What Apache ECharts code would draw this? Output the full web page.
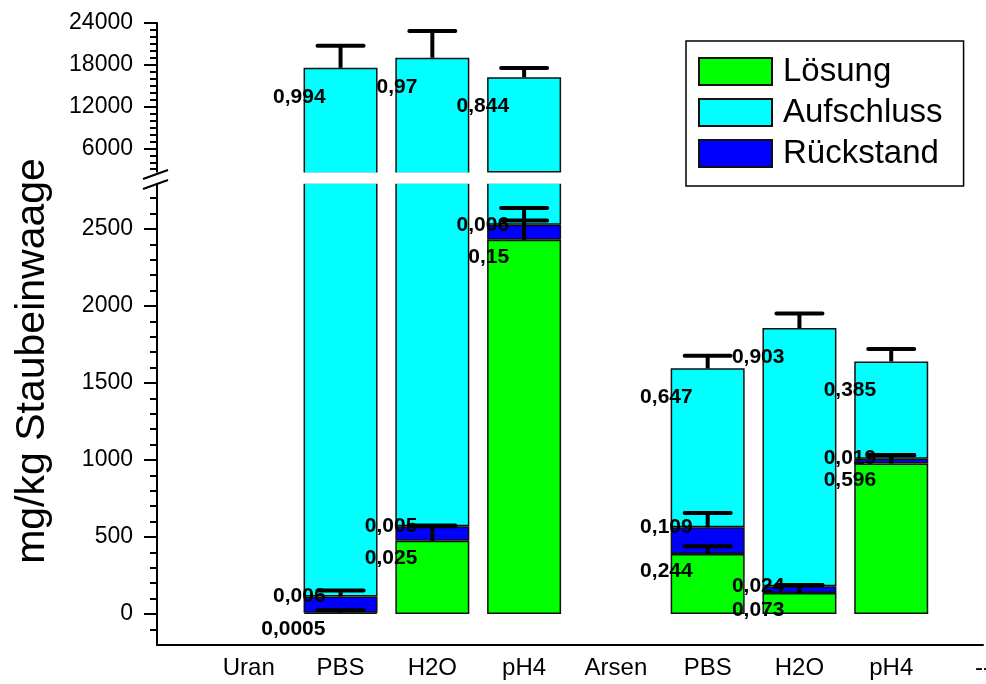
<!DOCTYPE html>
<html>
<head>
<meta charset="utf-8">
<script src="https://cdn.jsdelivr.net/npm/echarts@6/dist/echarts.min.js"></script>
<style>
  html, body { margin: 0; padding: 0; background: #fff; }
  #main { width: 986px; height: 684px; }
</style>
</head>
<body>
<div id="main"></div>
<script>
// Categories along the x axis (first slot is an empty lead-in position)
const categories = ['', 'Uran', 'PBS', 'H2O', 'pH4', 'Arsen', 'PBS', 'H2O', 'pH4', '--'];

// Total content per extraction (mg/kg Staubeinwaage)
const totals = [null, null, 17550, 19000, 16200, null, 1595, 1857, 1640, null];

// Fractions of the total per fraction type
const fracLoesung    = [null, null, 0.0005, 0.025, 0.15,  null, 0.244, 0.073, 0.596, null];
const fracRueckstand = [null, null, 0.006,  0.005, 0.006, null, 0.109, 0.024, 0.019, null];
const fracAufschluss = [null, null, 0.994,  0.97,  0.844, null, 0.647, 0.903, 0.385, null];

// Upper error (mg/kg) on top of each stacked segment
const errLoesung    = [null, null, 15,   95,   125,  null, 51, 52, 55, null];
const errRueckstand = [null, null, 39,   5,    109,  null, 93, 8,  23, null];
const errAufschluss = [null, null, 3190, 3850, 1340, null, 82, 95, 81, null];

// Axis ranges of the two sections of the broken value axis
const upperRange = [2400, 24000];
const lowerRange = [-200, 2800];

// Axis tick values
const upperMajorTicks = [6000, 12000, 18000, 24000];
const upperMinorTicks = [3000, 4000, 5000, 7000, 8000, 9000, 10000, 11000, 13000, 14000, 15000, 16000, 17000, 19000, 20000, 21000, 22000, 23000];
const lowerMajorTicks = [0, 500, 1000, 1500, 2000, 2500];
const lowerMinorTicks = [-100, 100, 200, 300, 400, 600, 700, 800, 900, 1100, 1200, 1300, 1400, 1600, 1700, 1800, 1900, 2100, 2200, 2300, 2400, 2600, 2700];

const FONT = 'Liberation Sans, Arial, Helvetica, sans-serif';

// Segment values derived from totals and fractions
const seg = (frac) => totals.map((t, i) => (t == null || frac[i] == null) ? null : t * frac[i]);
const loesung = seg(fracLoesung);
const rueckstand = seg(fracRueckstand);
const aufschluss = seg(fracAufschluss);
const stackTop = totals.map((t, i) => t == null ? null : loesung[i] + rueckstand[i] + aufschluss[i]);

const fmtFrac = (v) => String(v).replace('.', ',');

// Label text for a segment; "fits" decides in which axis section it is written
const fracText = (arr, fits) => (p) => {
  const i = p.dataIndex;
  if (arr[i] == null || (fits && !fits(i))) return '';
  return fmtFrac(arr[i]);
};
const inUpper = (i) => stackTop[i] > lowerRange[1];
const inLower = (i) => stackTop[i] <= lowerRange[1];

// Error bar rows: [categoryIndex, segmentTop, segmentTop + error]
function errRows(which, filter) {
  const rows = [];
  totals.forEach((t, i) => {
    if (t == null || (filter && !filter(i))) return;
    let base;
    if (which === 'l') base = loesung[i];
    else if (which === 'r') base = loesung[i] + rueckstand[i];
    else base = stackTop[i];
    const e = which === 'l' ? errLoesung[i] : which === 'r' ? errRueckstand[i] : errAufschluss[i];
    rows.push([i, base, base + e]);
  });
  return rows;
}

function errorSeries(rows, xIdx, yIdx) {
  return {
    type: 'custom',
    xAxisIndex: xIdx,
    yAxisIndex: yIdx,
    silent: true,
    z: 5,
    encode: { x: 0, y: [1, 2] },
    data: rows,
    renderItem: function (params, api) {
      const x = api.value(0);
      const p0 = api.coord([x, api.value(1)]);
      const p1 = api.coord([x, api.value(2)]);
      return {
        type: 'group',
        children: [
          { type: 'line', shape: { x1: p0[0], y1: p0[1], x2: p1[0], y2: p1[1] },
            style: { stroke: '#000', lineWidth: 4 } },
          { type: 'line', shape: { x1: p1[0] - 23, y1: p1[1], x2: p1[0] + 23, y2: p1[1] },
            style: { stroke: '#000', lineWidth: 4, lineCap: 'round' } }
        ]
      };
    }
  };
}

const valueLabel = (arr, dy, fits) => ({
  show: true,
  position: [22, dy],
  align: 'right',
  verticalAlign: 'middle',
  formatter: fracText(arr, fits),
  fontFamily: FONT,
  fontWeight: 'bold',
  fontSize: 21,
  color: '#000'
});

function barSeries(name, data, color, xIdx, yIdx, stack, label) {
  return {
    type: 'bar',
    name: name,
    xAxisIndex: xIdx,
    yAxisIndex: yIdx,
    stack: stack,
    barWidth: 74,
    data: data,
    clip: true,
    itemStyle: { color: color, borderColor: '#111', borderWidth: 1.5 },
    label: label || { show: false },
    emphasis: { disabled: true },
    z: 2
  };
}

function valueAxes(gridIndex, range, majors, minors) {
  return [
    {
      gridIndex: gridIndex, type: 'value', position: 'left', min: range[0], max: range[1],
      axisLine: { show: true, lineStyle: { color: '#000', width: 2 } },
      axisTick: { show: true, length: 13, customValues: majors, lineStyle: { color: '#000', width: 2 } },
      axisLabel: { customValues: majors, formatter: (v) => String(v), fontFamily: FONT, fontSize: 23, color: '#000', margin: 24 },
      splitLine: { show: false }
    },
    {
      gridIndex: gridIndex, type: 'value', position: 'left', offset: 0, min: range[0], max: range[1],
      axisLine: { show: false },
      axisTick: { show: true, length: 7, customValues: minors, lineStyle: { color: '#000', width: 2 } },
      axisLabel: { show: false },
      splitLine: { show: false }
    }
  ];
}

const GREEN = '#00ff00', CYAN = '#00ffff', BLUE = '#0000ff';

const chart = echarts.init(document.getElementById('main'));
chart.setOption({
  animation: false,
  backgroundColor: '#fff',
  grid: [
    { left: 157, right: 3, top: 23, height: 150.4, outerBoundsMode: 'none' },
    { left: 157, right: 3, top: 182.8, height: 462, outerBoundsMode: 'none' }
  ],
  xAxis: [
    { gridIndex: 0, type: 'category', data: categories, boundaryGap: false, show: false },
    {
      gridIndex: 1, type: 'category', data: categories, boundaryGap: false,
      axisLine: { show: true, onZero: false, lineStyle: { color: '#000', width: 2 } },
      axisTick: { show: false },
      axisLabel: { interval: 0, fontFamily: FONT, fontSize: 24, color: '#000', margin: 12 },
      splitLine: { show: false }
    }
  ],
  yAxis: [].concat(
    valueAxes(0, upperRange, upperMajorTicks, upperMinorTicks),
    valueAxes(1, lowerRange, lowerMajorTicks, lowerMinorTicks)
  ),
  legend: {
    data: ['Lösung', 'Aufschluss', 'Rückstand'],
    orient: 'vertical',
    left: 686,
    top: 41,
    icon: 'rect',
    itemWidth: 73,
    itemHeight: 27,
    itemGap: 8,
    padding: [14, 21, 16, 12],
    borderColor: '#000',
    borderWidth: 1.5,
    selectedMode: false,
    textStyle: { fontFamily: FONT, fontSize: 33, color: '#000', padding: [0, 0, 0, 6] }
  },
  graphic: [
    {
      type: 'text', x: 33, y: 361, rotation: Math.PI / 2, z: 10,
      style: { text: 'mg/kg Staubeinwaage', fontFamily: FONT, fontSize: 41, fill: '#000', align: 'center', verticalAlign: 'middle' }
    },
    // white gap across the broken axis and the bars
    { type: 'rect', z: 100, shape: { x: 150, y: 172.5, width: 530, height: 11.2 }, style: { fill: '#fff' } },
    // axis break marks
    { type: 'line', z: 101, shape: { x1: 143, y1: 179, x2: 168, y2: 170 }, style: { stroke: '#000', lineWidth: 2 } },
    { type: 'line', z: 101, shape: { x1: 143, y1: 189, x2: 168, y2: 180 }, style: { stroke: '#000', lineWidth: 2 } }
  ],
  series: [
    // upper section (axis indices: x 0, y 0)
    barSeries('Lösung', loesung, GREEN, 0, 0, 'upper'),
    barSeries('Rückstand', rueckstand, BLUE, 0, 0, 'upper'),
    barSeries('Aufschluss', aufschluss, CYAN, 0, 0, 'upper', valueLabel(fracAufschluss, 29, inUpper)),
    errorSeries(errRows('a', inUpper), 0, 0),
    // lower section (axis indices: x 1, y 2)
    barSeries('Lösung', loesung, GREEN, 1, 2, 'lower', valueLabel(fracLoesung, 17)),
    barSeries('Rückstand', rueckstand, BLUE, 1, 2, 'lower', valueLabel(fracRueckstand, 0)),
    barSeries('Aufschluss', aufschluss, CYAN, 1, 2, 'lower', valueLabel(fracAufschluss, 29, inLower)),
    errorSeries(errRows('l'), 1, 2),
    errorSeries(errRows('r'), 1, 2),
    errorSeries(errRows('a', inLower), 1, 2)
  ]
});
</script>
</body>
</html>
